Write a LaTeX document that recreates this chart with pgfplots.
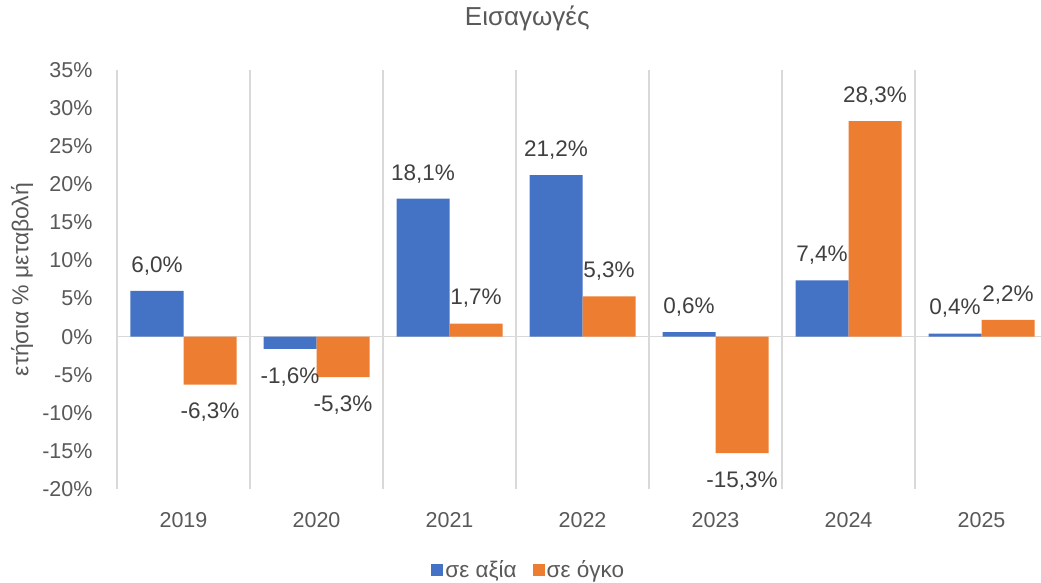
\documentclass[border=0pt]{standalone}
\usepackage{fontspec}
\setmainfont{Liberation Sans}
\usepackage{pgfplots}
\pgfplotsset{compat=1.18}
\definecolor{cblue}{HTML}{4472C4}
\definecolor{corange}{HTML}{ED7D31}
\definecolor{gridc}{HTML}{D9D9D9}
\definecolor{tickc}{HTML}{595959}
\definecolor{labc}{HTML}{404040}
\begin{document}
\begin{tikzpicture}
\begin{axis}[
  name=ax,
  width=924bp, height=419bp, scale only axis,
  xmin=-0.5, xmax=6.447, ymin=-20, ymax=35,
  axis line style={draw=none},
  major tick length=0pt, minor tick length=0pt,
  xtick={0,1,2,3,4,5,6},
  xticklabels={2019,2020,2021,2022,2023,2024,2025},
  minor xtick={-0.5,0.5,1.5,2.5,3.5,4.5,5.5,6.5},
  xminorgrids=true,
  minor grid style={draw=gridc, line width=1.3bp},
  ytick={-20,-15,-10,-5,0,5,10,15,20,25,30,35},
  yticklabels={-20\%,-15\%,-10\%,-5\%,0\%,5\%,10\%,15\%,20\%,25\%,30\%,35\%},
  extra y ticks={0}, extra y tick labels={},
  extra y tick style={ymajorgrids=true, major grid style={draw=gridc, line width=1.5bp}},
  tick label style={font=\fontsize{21.5bp}{24bp}\selectfont, text=tickc},
  yticklabel style={anchor=east, xshift=-21bp},
  xticklabel style={anchor=north, yshift=-20bp},
  every axis y label/.style={at={(rel axis cs:-0.1028,0.5)}, rotate=90, anchor=center,
     font=\fontsize{23bp}{26bp}\selectfont, text=tickc},
  ylabel={ετήσια \% μεταβολή},
  title={Εισαγωγές},
  title style={at={(rel axis cs:0.444,1.108)}, anchor=center,
     font=\fontsize{26bp}{29bp}\selectfont, text=tickc},
  ybar, bar width=0.3985,
  nodes near coords, point meta=explicit symbolic,
  visualization depends on={y \as \rawy},
  every node near coord/.append style={font=\fontsize{22.5bp}{25bp}\selectfont, text=labc,
     text height=15.5bp, text depth=0bp, inner ysep=18.5bp, inner xsep=0bp,
     anchor={\ifdim\rawy pt<0pt north\else south\fi}},
  legend style={at={(rel axis cs:0.4457,-0.1925)}, anchor=center, draw=none,
     font=\fontsize{22.5bp}{25bp}\selectfont, text=tickc, legend columns=2,
     /tikz/every even column/.append style={column sep=14bp}},
  legend image code/.code={\fill[#1,draw=none] (0bp,-6bp) rectangle (12bp,6bp);},
]
\addplot[fill=cblue, draw=none, bar shift=-0.19925] coordinates {
 (0,6.0) [6,0\%]
 (1,-1.6) [-1,6\%]
 (2,18.1) [18,1\%]
 (3,21.2) [21,2\%]
 (4,0.6) [0,6\%]
 (5,7.4) [7,4\%]
 (6,0.4) [0,4\%]
};
\addplot[fill=corange, draw=none, bar shift=0.19925] coordinates {
 (0,-6.3) [-6,3\%]
 (1,-5.3) [-5,3\%]
 (2,1.7) [1,7\%]
 (3,5.3) [5,3\%]
 (4,-15.3) [-15,3\%]
 (5,28.3) [28,3\%]
 (6,2.2) [2,2\%]
};
\legend{σε αξία, σε όγκο}
\end{axis}
\pgfresetboundingbox
\path ([xshift=-117bp,yshift=-94bp]ax.south west) rectangle ([yshift=70bp]ax.north east);
\end{tikzpicture}
\end{document}
